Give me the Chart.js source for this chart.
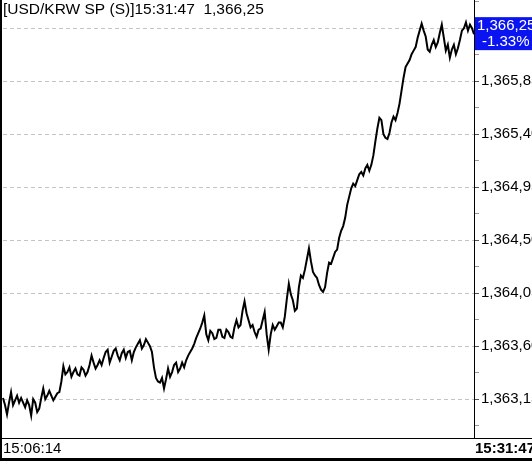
<!DOCTYPE html>
<html>
<head>
<meta charset="utf-8">
<script src="https://cdn.jsdelivr.net/npm/chart.js@4.4.1/dist/chart.umd.min.js"></script>
<style>
  html, body { margin: 0; padding: 0; background: #fff; }
  canvas { display: block; }
</style>
</head>
<body>
<canvas id="fxChart" width="532" height="461"></canvas>
<script>
// USD/KRW spot ticks, 15:06:14 -> 15:31:47
const prices = [
  1363.16, 1363.10, 1363.02, 1363.12, 1363.21, 1363.10, 1363.14, 1363.18, 1363.12, 1363.16,
  1363.12, 1363.08, 1363.14, 1363.10, 1363.01, 1363.15, 1363.12, 1363.04, 1363.07, 1363.16,
  1363.24, 1363.15, 1363.18, 1363.22, 1363.18, 1363.14, 1363.17, 1363.20, 1363.21, 1363.30,
  1363.43, 1363.36, 1363.38, 1363.42, 1363.34, 1363.38, 1363.41, 1363.36, 1363.35, 1363.42,
  1363.40, 1363.35, 1363.38, 1363.44, 1363.52, 1363.46, 1363.41, 1363.44, 1363.48, 1363.44,
  1363.50, 1363.55, 1363.57, 1363.46, 1363.51, 1363.56, 1363.58, 1363.52, 1363.48, 1363.54,
  1363.57, 1363.50, 1363.55, 1363.56, 1363.48, 1363.55, 1363.59, 1363.62, 1363.65, 1363.58,
  1363.61, 1363.66, 1363.63, 1363.60, 1363.55, 1363.42, 1363.33, 1363.30, 1363.29, 1363.33,
  1363.24, 1363.32, 1363.41, 1363.34, 1363.38, 1363.44, 1363.46, 1363.38, 1363.41, 1363.46,
  1363.42, 1363.48, 1363.52, 1363.55, 1363.58, 1363.62, 1363.67, 1363.71, 1363.75, 1363.80,
  1363.86, 1363.70, 1363.65, 1363.73, 1363.71, 1363.66, 1363.67, 1363.74, 1363.74, 1363.68,
  1363.67, 1363.74, 1363.72, 1363.68, 1363.67, 1363.76, 1363.82, 1363.76, 1363.78, 1363.90,
  1363.98, 1363.88, 1363.82, 1363.76, 1363.78, 1363.72, 1363.68, 1363.74, 1363.75, 1363.82,
  1363.89, 1363.70, 1363.57, 1363.70, 1363.78, 1363.74, 1363.77, 1363.80, 1363.80, 1363.76,
  1363.85, 1364.00, 1364.13, 1364.04, 1363.99, 1363.90, 1363.92, 1364.10, 1364.20, 1364.18,
  1364.25, 1364.34, 1364.43, 1364.32, 1364.23, 1364.20, 1364.18, 1364.12, 1364.08, 1364.06,
  1364.10, 1364.22, 1364.31, 1364.30, 1364.35, 1364.40, 1364.42, 1364.52, 1364.58, 1364.62,
  1364.69, 1364.80, 1364.87, 1364.94, 1364.98, 1364.96, 1365.01, 1365.06, 1365.08, 1365.05,
  1365.11, 1365.14, 1365.09, 1365.14, 1365.22, 1365.34, 1365.45, 1365.54, 1365.52, 1365.40,
  1365.37, 1365.36, 1365.41, 1365.50, 1365.55, 1365.52, 1365.58, 1365.66, 1365.77, 1365.88,
  1365.97, 1366.00, 1366.03, 1366.08, 1366.11, 1366.14, 1366.22, 1366.28, 1366.34, 1366.28,
  1366.23, 1366.12, 1366.10, 1366.16, 1366.20, 1366.14, 1366.18, 1366.26, 1366.33, 1366.22,
  1366.11, 1366.16, 1366.05, 1366.12, 1366.16, 1366.08, 1366.13, 1366.20, 1366.28, 1366.30,
  1366.35, 1366.28, 1366.33, 1366.30, 1366.25
];
const majorTicks = [1363.15, 1363.60, 1364.05, 1364.50, 1364.95, 1365.40, 1365.85, 1366.30];
const minorTicks = [1362.925, 1363.375, 1363.825, 1364.275, 1364.725, 1365.175, 1365.625, 1366.075, 1366.525];
const startTime = '15:06:14';
const endTime = '15:31:47';
const title = '[USD/KRW SP (S)]';
const lastPrice = 1366.25;
const changePct = '-1.33%';

function fmt(v) {
  const s = v.toFixed(2).replace('.', ',');
  return s.slice(0, 1) + ',' + s.slice(1);
}
function isMajor(v) {
  return majorTicks.some(m => Math.abs(m - v) < 0.001);
}

const FONT = '"Liberation Sans", Arial, sans-serif';

const overlay = {
  id: 'overlay',
  afterDraw(chart) {
    const ctx = chart.ctx;
    const area = chart.chartArea;
    const y = chart.scales.y;
    const W = chart.width, H = chart.height;
    ctx.save();

    // header
    ctx.fillStyle = '#000';
    ctx.font = '15.5px ' + FONT;
    ctx.textBaseline = 'top';
    ctx.textAlign = 'left';
    ctx.fillText(title + '15:31:47  ' + fmt(lastPrice), 3, 2);

    // last price box
    const py = y.getPixelForValue(lastPrice);
    ctx.font = '15px ' + FONT;
    ctx.fillStyle = '#0a14f0';
    ctx.fillRect(area.right + 1, py - 17, W - area.right - 1, 33);
    ctx.fillStyle = '#fff';
    ctx.textBaseline = 'middle';
    ctx.fillText(fmt(lastPrice), area.right + 3, py - 8);
    ctx.fillText(changePct, area.right + 8, py + 8);

    // frame
    ctx.strokeStyle = '#000';
    ctx.lineWidth = 2;
    ctx.beginPath();
    ctx.moveTo(1, 0); ctx.lineTo(1, H);
    ctx.stroke();
    ctx.lineWidth = 1;
    ctx.beginPath();
    ctx.moveTo(0, area.bottom + 0.5); ctx.lineTo(W, area.bottom + 0.5);
    ctx.stroke();
    ctx.fillStyle = '#000';
    ctx.fillRect(0, H - 3, W, 3);

    // time strip
    ctx.textBaseline = 'middle';
    ctx.font = '15px ' + FONT;
    ctx.fillText(startTime, 3, area.bottom + 11);
    ctx.font = 'bold 15px ' + FONT;
    ctx.fillText(endTime, area.right + 1, area.bottom + 11);
    ctx.restore();
  }
};

new Chart(document.getElementById('fxChart').getContext('2d'), {
  type: 'line',
  data: {
    labels: prices.map((_, i) => i),
    datasets: [{
      data: prices,
      borderColor: '#000',
      borderWidth: 2,
      pointRadius: 0,
      tension: 0,
      fill: false
    }]
  },
  options: {
    responsive: false,
    animation: false,
    layout: { padding: { left: 3, right: 0, top: 0, bottom: 23 } },
    plugins: { legend: { display: false }, tooltip: { enabled: false } },
    scales: {
      x: { display: false, offset: false },
      y: {
        position: 'right',
        min: 1362.82,
        max: 1366.54,
        afterBuildTicks(scale) {
          scale.ticks = majorTicks.concat(minorTicks).sort((a, b) => a - b).map(v => ({ value: v }));
        },
        afterFit(scale) {
          scale.width = 58;
          scale.paddingTop = 0;
          scale.paddingBottom = 0;
        },
        grid: {
          color: ctx => isMajor(ctx.tick.value) ? '#c4c4c4' : 'rgba(0,0,0,0)',
          tickColor: ctx => isMajor(ctx.tick.value) ? '#555' : '#999',
          tickLength: 5,
          lineWidth: 1
        },
        border: { display: true, color: '#000', width: 1, dash: [4, 3] },
        ticks: {
          padding: 2,
          color: '#000',
          font: { family: FONT, size: 15 },
          callback: v => isMajor(v) ? fmt(v) : ''
        }
      }
    }
  },
  plugins: [overlay]
});
</script>
</body>
</html>
